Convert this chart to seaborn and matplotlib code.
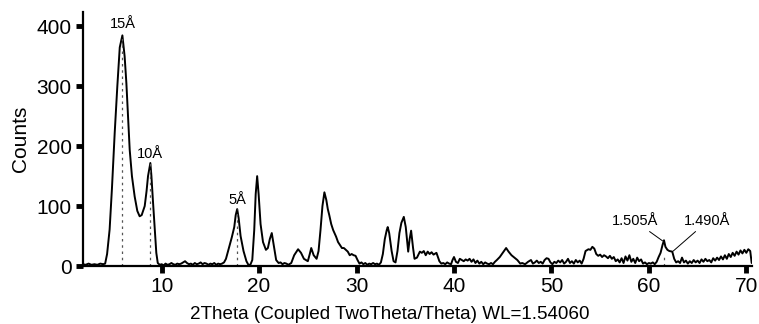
import matplotlib
matplotlib.use("Agg")
import matplotlib.pyplot as plt
import seaborn as sns
import pandas as pd

two_theta = [1.9, 2.2, 2.5, 2.8, 3.1, 3.4, 3.7, 4.0, 4.2,
             4.4, 4.66, 4.9, 5.18, 5.45, 5.7, 5.97, 6.2, 6.38, 6.55, 6.72, 6.95, 7.23, 7.5, 7.74, 7.95,
             8.26, 8.45, 8.6, 8.84, 8.95, 9.1, 9.3, 9.45, 9.6, 9.8,
             10.0, 10.2, 10.4, 10.6, 10.8, 11.0, 11.2, 11.4, 11.6, 11.8, 12.0, 12.2, 12.4, 12.6, 12.8,
             13.0, 13.2, 13.4, 13.6, 13.8, 14.0, 14.2, 14.4, 14.6, 14.8, 15.0, 15.2, 15.4, 15.6, 15.8,
             16.0, 16.2, 16.4, 16.6, 16.9, 17.2, 17.45, 17.6, 17.75, 17.9, 18.1, 18.4, 18.7, 18.9,
             19.1, 19.3, 19.5, 19.65, 19.8, 19.95, 20.15, 20.4, 20.7, 20.9, 21.1, 21.3, 21.5, 21.75,
             22.0, 22.2, 22.4, 22.6, 22.8, 23.0, 23.3, 23.6, 24.0, 24.3, 24.6, 24.8, 25.0, 25.2, 25.35,
             25.6, 25.9, 26.1, 26.3, 26.5, 26.7, 26.9, 27.05, 27.2, 27.4, 27.6, 27.9, 28.1, 28.3, 28.5,
             28.7, 28.9, 29.1, 29.3, 29.5, 29.7, 29.9, 30.1, 30.3, 30.5, 30.7, 30.9, 31.1, 31.3, 31.5,
             31.7, 31.9, 32.1, 32.3, 32.5, 32.7, 32.9, 33.1, 33.2, 33.35, 33.6, 33.8, 34.0, 34.2, 34.4,
             34.6, 34.85, 35.05, 35.3, 35.45, 35.6, 35.8, 35.95, 36.2, 36.5, 36.7, 36.9, 37.1, 37.3,
             37.5, 37.7, 37.9, 38.2, 38.5, 38.7, 38.9, 39.1, 39.3, 39.5, 39.7, 39.85, 40.0, 40.2, 40.4,
             40.6, 40.8, 41.0, 41.2, 41.4, 41.6, 41.8, 42.0, 42.2, 42.4, 42.6, 42.8, 43.0, 43.2, 43.4,
             43.6, 43.8, 44.0, 44.2, 44.4, 44.7, 45.0, 45.35, 45.6, 45.9, 46.2, 46.5, 46.8, 47.0, 47.3,
             47.6, 47.9, 48.1, 48.3, 48.5, 48.7, 48.9, 49.1, 49.3, 49.5, 49.7, 49.9, 50.1, 50.3, 50.5,
             50.7, 50.9, 51.1, 51.3, 51.5, 51.7, 51.9, 52.1, 52.3, 52.5, 52.7, 52.9, 53.1, 53.3, 53.5,
             53.8, 54.0, 54.2, 54.4, 54.6, 54.8, 55.0, 55.2, 55.4, 55.6, 55.8, 56.0, 56.2, 56.4, 56.6,
             56.8, 57.0, 57.2, 57.4, 57.6, 57.8, 58.0, 58.2, 58.4, 58.6, 58.8, 59.0, 59.2, 59.4, 59.6,
             59.8, 60.0, 60.2, 60.4, 60.6, 60.8, 61.0, 61.2, 61.4, 61.55, 61.7, 61.9, 62.1, 62.4, 62.6,
             62.8, 63.0, 63.2, 63.4, 63.6, 63.8, 64.0, 64.2, 64.4, 64.6, 64.8, 65.0, 65.2, 65.4, 65.6,
             65.8, 66.0, 66.2, 66.4, 66.6, 66.8, 67.0, 67.2, 67.4, 67.6, 67.8, 68.0, 68.2, 68.4, 68.6,
             68.8, 69.0, 69.2, 69.4, 69.6, 69.8, 70.0, 70.2, 70.4, 70.55]

counts = [3, 2, 4, 2, 3, 2, 4, 3, 4,
          20, 61, 130, 222, 300, 365, 385, 350, 305, 250, 194, 150, 116, 92, 83, 85,
          100, 125, 150, 172, 150, 110, 60, 22, 5, 2,
          3, 1, 4, 2, 3, 5, 3, 2, 4, 3, 4, 6, 8, 5, 3,
          4, 2, 5, 3, 4, 6, 3, 5, 4, 2, 4, 3, 5, 2, 4,
          3, 4, 6, 12, 30, 48, 65, 85, 95, 80, 50, 25, 8, 2,
          2, 10, 60, 120, 150, 120, 70, 40, 27, 30, 45, 55, 35, 10,
          5, 6, 3, 5, 4, 2, 5, 18, 28, 22, 12, 10, 8, 20, 30,
          18, 12, 25, 60, 100, 123, 110, 95, 85, 70, 60, 49, 40, 35, 30,
          30, 27, 24, 18, 20, 18, 17, 10, 4, 6, 3, 5, 2, 4, 3,
          5, 3, 4, 2, 6, 20, 45, 60, 65, 55, 25, 8, 6, 25, 55,
          72, 82, 65, 24, 45, 59, 30, 12, 14, 24, 22, 25, 18, 24,
          20, 23, 19, 22, 8, 4, 5, 3, 6, 4, 3, 10, 15, 7, 5,
          12, 10, 8, 11, 9, 12, 7, 11, 5, 9, 4, 7, 3, 6, 4,
          3, 5, 3, 7, 10, 15, 22, 30, 24, 18, 14, 10, 4, 5, 3,
          7, 10, 4, 6, 9, 5, 7, 4, 10, 13, 12, 6, 3, 7, 5,
          9, 6, 10, 4, 7, 12, 5, 8, 4, 10, 6, 9, 4, 12, 25,
          28, 27, 32, 29, 20, 17, 19, 15, 18, 16, 13, 17, 12, 15, 8,
          11, 6, 13, 5, 16, 9, 18, 7, 12, 5, 14, 8, 11, 4, 6,
          3, 5, 4, 6, 3, 7, 15, 22, 35, 43, 32, 27, 25, 24, 12,
          6, 8, 5, 14, 6, 9, 4, 8, 5, 10, 6, 9, 5, 11, 7,
          12, 8, 10, 6, 13, 9, 14, 10, 16, 11, 18, 12, 20, 15, 22,
          17, 24, 19, 26, 21, 27, 22, 28, 25, 5]

peak_pos = [5.97, 8.84, 17.75, 61.55]
peak_height = [385, 172, 95, 18]
peak_labels = ["15Å", "10Å", "5Å"]
label_pos = [(5.97, 392), (8.84, 176), (17.75, 99)]

x_ticks = [10, 20, 30, 40, 50, 60, 70]
y_ticks = [0, 100, 200, 300, 400]

df = pd.DataFrame({"two_theta": two_theta, "counts": counts})

sns.set_style("ticks")
plt.rcParams["font.family"] = ["Liberation Sans", "DejaVu Sans"]
plt.rcParams["text.color"] = "black"
plt.rcParams["axes.labelcolor"] = "black"
plt.rcParams["xtick.color"] = "black"
plt.rcParams["ytick.color"] = "black"
plt.rcParams["axes.edgecolor"] = "black"

fig = plt.figure(figsize=(7.59, 3.24), dpi=100)
ax = fig.add_axes([0.109, 0.179, 0.882, 0.784])

sns.lineplot(data=df, x="two_theta", y="counts", ax=ax, color="black", linewidth=1.4)

for p, h in zip(peak_pos, peak_height):
    ax.plot([p, p], [0, h], linestyle=(0, (2, 3)), color="#555555", linewidth=0.9)

for lab, (px, py) in zip(peak_labels, label_pos):
    ax.text(px, py, lab, ha="center", va="bottom", fontsize=10.5)

ax.annotate("1.505Å", xy=(61.4, 42), xytext=(58.6, 63), fontsize=10.5,
            ha="center", va="bottom",
            arrowprops=dict(arrowstyle="-", color="black", lw=0.7, shrinkA=0, shrinkB=0))
ax.annotate("1.490Å", xy=(62.5, 25), xytext=(66.0, 63), fontsize=10.5,
            ha="center", va="bottom",
            arrowprops=dict(arrowstyle="-", color="black", lw=0.7, shrinkA=0, shrinkB=0))

ax.set_xlim(1.9, 70.6)
ax.set_ylim(0, 424)
ax.set_xticks(x_ticks)
ax.set_yticks(y_ticks)
ax.tick_params(axis="both", direction="out", length=5, width=3.5, labelsize=15, pad=3,
               color="black", labelcolor="black")
for s in ["left", "bottom"]:
    ax.spines[s].set_linewidth(1.6)
    ax.spines[s].set_color("black")
sns.despine(ax=ax)

ax.set_xlabel("2Theta (Coupled TwoTheta/Theta) WL=1.54060", fontsize=13.6)
ax.xaxis.set_label_coords(0.459, -0.158)
ax.set_ylabel("Counts", fontsize=15, labelpad=5)

fig.savefig("out.png", dpi=100)
